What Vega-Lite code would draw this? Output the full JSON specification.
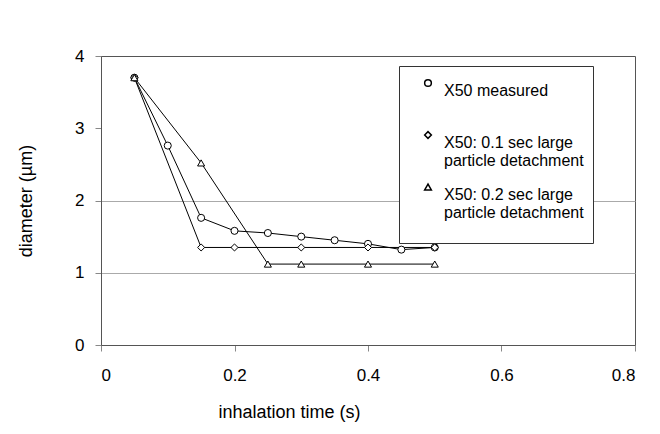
{
  "$schema": "https://vega.github.io/schema/vega-lite/v6.json",
  "autosize": "none",
  "width": 534,
  "height": 289,
  "padding": {"left": 101, "top": 56, "right": 25, "bottom": 89},
  "background": "white",
  "config": {
    "font": "Liberation Sans",
    "view": {"stroke": "#555", "strokeWidth": 1},
    "axis": {
      "labelFont": "Liberation Sans",
      "titleFont": "Liberation Sans",
      "labelColor": "#000",
      "titleColor": "#000",
      "titleFontWeight": "normal",
      "domainColor": "#555",
      "tickColor": "#888",
      "tickSize": 6
    }
  },
  "data": {
    "values": [
      {"series": "X50 measured", "t": 0.05, "d": 3.70},
      {"series": "X50 measured", "t": 0.10, "d": 2.76},
      {"series": "X50 measured", "t": 0.15, "d": 1.76},
      {"series": "X50 measured", "t": 0.20, "d": 1.58},
      {"series": "X50 measured", "t": 0.25, "d": 1.55},
      {"series": "X50 measured", "t": 0.30, "d": 1.50},
      {"series": "X50 measured", "t": 0.35, "d": 1.45},
      {"series": "X50 measured", "t": 0.40, "d": 1.40},
      {"series": "X50 measured", "t": 0.45, "d": 1.32},
      {"series": "X50 measured", "t": 0.50, "d": 1.35},
      {"series": "X50: 0.1 sec large|particle detachment", "t": 0.05, "d": 3.70},
      {"series": "X50: 0.1 sec large|particle detachment", "t": 0.15, "d": 1.35},
      {"series": "X50: 0.1 sec large|particle detachment", "t": 0.20, "d": 1.35},
      {"series": "X50: 0.1 sec large|particle detachment", "t": 0.30, "d": 1.35},
      {"series": "X50: 0.1 sec large|particle detachment", "t": 0.40, "d": 1.35},
      {"series": "X50: 0.1 sec large|particle detachment", "t": 0.50, "d": 1.35},
      {"series": "X50: 0.2 sec large|particle detachment", "t": 0.05, "d": 3.70},
      {"series": "X50: 0.2 sec large|particle detachment", "t": 0.15, "d": 2.52},
      {"series": "X50: 0.2 sec large|particle detachment", "t": 0.25, "d": 1.12},
      {"series": "X50: 0.2 sec large|particle detachment", "t": 0.30, "d": 1.12},
      {"series": "X50: 0.2 sec large|particle detachment", "t": 0.40, "d": 1.12},
      {"series": "X50: 0.2 sec large|particle detachment", "t": 0.50, "d": 1.12}
    ]
  },
  "encoding": {
    "x": {
      "field": "t", "type": "quantitative",
      "scale": {"domain": [0, 0.8], "nice": false},
      "axis": {
        "values": [0, 0.2, 0.4, 0.6, 0.8],
        "labelExpr": "datum.value == 0 ? '0' : format(datum.value, '.1f')",
        "grid": false,
        "labelFontSize": 17,
        "labelPadding": 16,
        "title": "inhalation time (s)",
        "titleFontSize": 18,
        "titlePadding": 20,
        "titleX": 188,
        "titleAnchor": "start",
        "titleAlign": "center"
      }
    },
    "y": {
      "field": "d", "type": "quantitative",
      "scale": {"domain": [0, 4], "nice": false},
      "axis": {
        "values": [0, 1, 2, 3, 4],
        "format": "d",
        "grid": true,
        "gridColor": {"condition": {"test": "datum.value == 1 || datum.value == 2", "value": "#aaaaaa"}, "value": "transparent"},
        "labelFontSize": 17,
        "labelPadding": 11,
        "title": "diameter (µm)",
        "titleFontSize": 18,
        "titlePadding": 39
      }
    }
  },
  "layer": [
    {
      "mark": {"type": "line", "color": "black", "strokeWidth": 1},
      "encoding": {"detail": {"field": "series"}}
    },
    {
      "mark": {"type": "point", "filled": true, "fill": "white", "stroke": "black", "strokeWidth": 1, "opacity": 1, "size": 50},
      "encoding": {
        "shape": {
          "field": "series", "type": "nominal",
          "scale": {
            "domain": ["X50 measured", "X50: 0.1 sec large|particle detachment", "X50: 0.2 sec large|particle detachment"],
            "range": ["circle", "diamond", "triangle-up"]
          },
          "legend": {
            "title": " ",
            "titleOrient": "bottom",
            "titleFontSize": 8,
            "titlePadding": 5,
            "orient": "none",
            "legendX": 298,
            "legendY": 10,
            "padding": 9,
            "strokeColor": "#333",
            "fillColor": "white",
            "gridAlign": "all",
            "labelFont": "Liberation Sans",
            "labelFontSize": 16,
            "labelColor": "#000",
            "labelBaseline": "top",
            "labelOffset": 8,
            "labelLimit": 400,
            "labelExpr": "split(datum.label, '|')",
            "rowPadding": 10,
            "symbolSize": 45,
            "symbolOffset": 12,
            "encode": {
              "symbols": {
                "stroke": {"value": "black"},
                "strokeWidth": {"value": 1},
                "fill": {"value": "white"},
                "opacity": {"value": 1}
              }
            }
          }
        }
      }
    }
  ]
}
